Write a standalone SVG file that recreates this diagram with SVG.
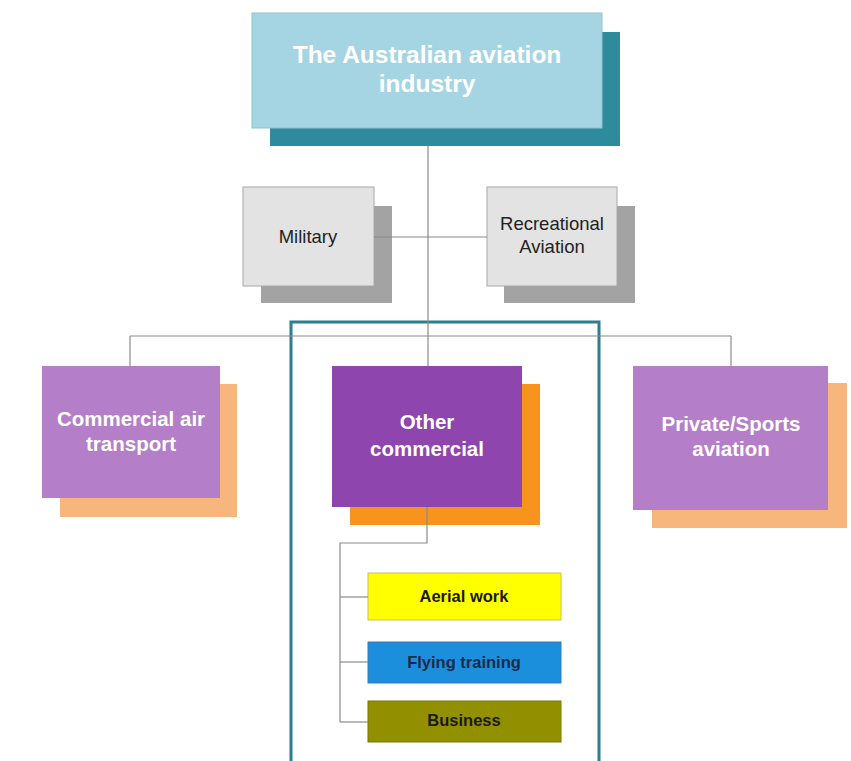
<svg xmlns="http://www.w3.org/2000/svg" width="851" height="761" viewBox="0 0 851 761">
<style>
.conn{fill:none;stroke:#8a8a8a;stroke-width:1.2}
.wb{font-family:"Liberation Sans",Arial,sans-serif;font-weight:bold;fill:#ffffff;text-anchor:middle}
.dk{font-family:"Liberation Sans",Arial,sans-serif;fill:#222222;text-anchor:middle}
.sm{font-family:"Liberation Sans",Arial,sans-serif;font-weight:bold;font-size:16.5px;text-anchor:middle}
</style>
<rect width="851" height="761" fill="#ffffff"/>
<g id="frame">
<rect x="291" y="322" width="308" height="445" fill="none" stroke="#2b7f8e" stroke-width="3"/>
</g>
<g id="n-root">
<rect x="270" y="32" width="350" height="114" fill="#2e8b9b"/>
<rect x="252" y="13" width="350" height="115" fill="#a5d5e2" stroke="#8fc3d0" stroke-width="1"/>
<text class="wb" font-size="24.5" x="427" y="63">The Australian aviation</text>
<text class="wb" font-size="24.5" x="427" y="92">industry</text>
</g>
<g id="n-military">
<rect x="261" y="206" width="131" height="97" fill="#a3a3a3"/>
<rect x="243" y="187" width="131" height="99" fill="#e3e3e3" stroke="#a8a8a8" stroke-width="1"/>
<text class="dk" font-size="18.5" x="308" y="243">Military</text>
</g>
<g id="n-recreational">
<rect x="504" y="206" width="131" height="97" fill="#a3a3a3"/>
<rect x="487" y="187" width="130" height="99" fill="#e3e3e3" stroke="#a8a8a8" stroke-width="1"/>
<text class="dk" font-size="18.5" x="552" y="230">Recreational</text>
<text class="dk" font-size="18.5" x="552" y="253">Aviation</text>
</g>
<g id="n-commercial-air">
<rect x="60" y="384" width="177" height="133" fill="#f6b67c"/>
<rect x="42" y="366" width="178" height="132" fill="#b47fc8"/>
<text class="wb" font-size="20.5" x="131" y="426">Commercial air</text>
<text class="wb" font-size="20.5" x="131" y="451">transport</text>
</g>
<g id="n-other">
<rect x="350" y="384" width="190" height="141" fill="#f7941e"/>
<rect x="332" y="366" width="190" height="141" fill="#8e45ae"/>
<text class="wb" font-size="20.5" x="427" y="429">Other</text>
<text class="wb" font-size="20.5" x="427" y="456">commercial</text>
</g>
<g id="n-private">
<rect x="652" y="383" width="195" height="145" fill="#f6b67c"/>
<rect x="633" y="366" width="195" height="144" fill="#b47fc8"/>
<text class="wb" font-size="20.5" x="731" y="431">Private/Sports</text>
<text class="wb" font-size="20.5" x="731" y="456">aviation</text>
</g>
<g id="n-aerial">
<rect x="368" y="573" width="193" height="47" fill="#ffff00" stroke="#c8c060" stroke-width="1"/>
<text class="sm" fill="#1a1a1a" x="464" y="602">Aerial work</text>
</g>
<g id="n-flying">
<rect x="368" y="642" width="193" height="41" fill="#1b8fdc" stroke="#3a7ab0" stroke-width="1"/>
<text class="sm" fill="#1a2a4a" x="464" y="668">Flying training</text>
</g>
<g id="n-business">
<rect x="368" y="701" width="193" height="41" fill="#939000" stroke="#7a7800" stroke-width="1"/>
<text class="sm" fill="#1a1a1a" x="464" y="726">Business</text>
</g>
<g id="connectors">
<path class="conn" d="M428 146 V366"/>
<path class="conn" d="M374 237 H487"/>
<path class="conn" d="M130 336 H731"/>
<path class="conn" d="M130 336 V366"/>
<path class="conn" d="M731 336 V366"/>
<path class="conn" d="M427 507 V543 H340 V722"/>
<path class="conn" d="M340 597 H368"/>
<path class="conn" d="M340 662 H368"/>
<path class="conn" d="M340 722 H368"/>
</g>
</svg>
